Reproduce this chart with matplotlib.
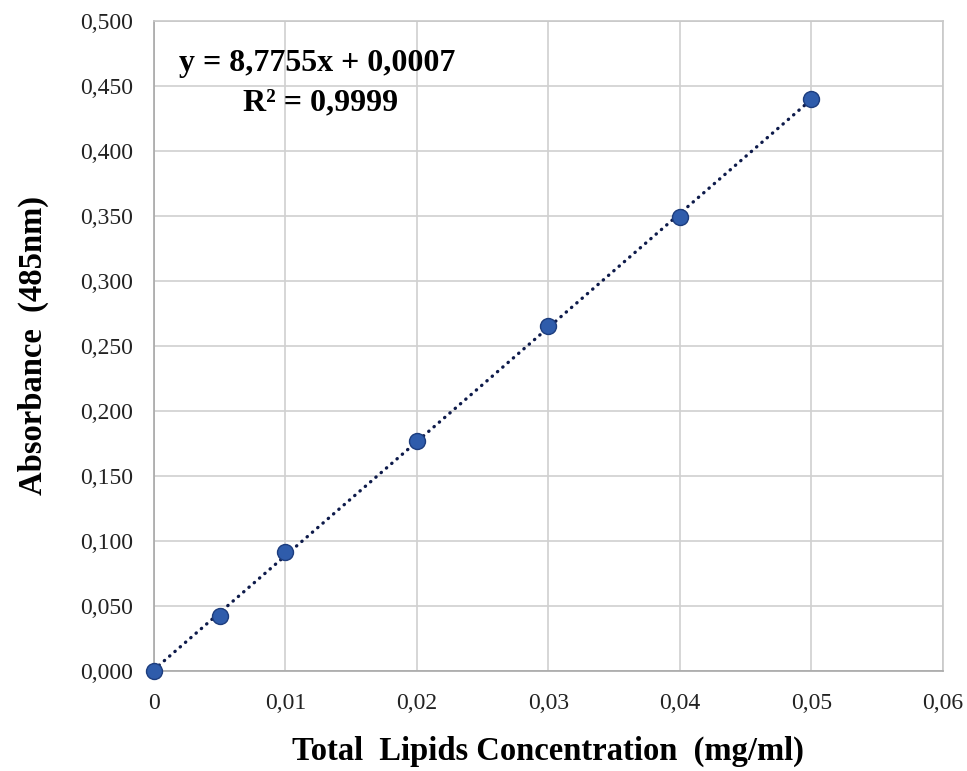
"""
Calibration curve for total lipids: absorbance at 485 nm vs concentration.
"""

import matplotlib.pyplot as plt
import numpy as np
from matplotlib.ticker import FuncFormatter

plt.rcParams["font.family"] = ["Liberation Serif", "DejaVu Serif"]

# Standards (mg/ml) and measured absorbance.
concentration = [0.0, 0.005, 0.01, 0.02, 0.03, 0.04, 0.05]
absorbance = [0.000, 0.042, 0.091, 0.177, 0.265, 0.349, 0.440]

# Linear trendline coefficients.
slope = 8.7755
intercept = 0.0007
r_squared = 0.9999

x_ticks = [0, 0.01, 0.02, 0.03, 0.04, 0.05, 0.06]
y_ticks = [0.0, 0.05, 0.1, 0.15, 0.2, 0.25, 0.3, 0.35, 0.4, 0.45, 0.5]


def comma(fmt):
    return FuncFormatter(lambda v, _: fmt.format(v).replace(".", ","))


fig = plt.figure(figsize=(9.67, 7.71), dpi=100)
ax = fig.add_axes([0.159, 0.130, 0.816, 0.843])

ax.set_xlim(0, 0.06)
ax.set_ylim(0, 0.5)
ax.set_xticks(x_ticks)
ax.set_yticks(y_ticks)
ax.xaxis.set_major_formatter(
    FuncFormatter(lambda v, _: "0" if v == 0 else f"{v:.2f}".replace(".", ","))
)
ax.yaxis.set_major_formatter(comma("{:.3f}"))
ax.tick_params(length=0, labelsize=17, colors="#222222")
ax.tick_params(axis="y", pad=15)
ax.tick_params(axis="x", pad=16)

ax.grid(True, color="#d0d0d0", linewidth=1.2)
ax.set_axisbelow(True)
for spine in ax.spines.values():
    spine.set_color("#c8c8c8")
    spine.set_linewidth(1.2)
ax.spines["left"].set_color("#a8a8a8")
ax.spines["bottom"].set_color("#a8a8a8")

# Dotted trendline over the measured range.
xt = np.array([concentration[0], concentration[-1]])
ax.plot(
    xt,
    slope * xt + intercept,
    linestyle=(0, (0.1, 2.0)),
    dash_capstyle="round",
    linewidth=2.4,
    color="#0d1a4a",
    zorder=2,
)

ax.plot(
    concentration,
    absorbance,
    linestyle="none",
    marker="o",
    markersize=11.5,
    markerfacecolor="#2f5cab",
    markeredgecolor="#1d3d7e",
    markeredgewidth=1.0,
    zorder=3,
    clip_on=False,
)

ax.text(
    0.0124,
    0.467,
    f"y = {slope:.4f}x + {intercept:.4f}".replace(".", ","),
    fontsize=23,
    fontweight="bold",
    ha="center",
    va="center",
)
ax.text(
    0.0127,
    0.437,
    f"R² = {r_squared:.4f}".replace(".", ","),
    fontsize=23,
    fontweight="bold",
    ha="center",
    va="center",
)

ax.set_xlabel("Total  Lipids Concentration  (mg/ml)", fontsize=23.5, fontweight="bold", labelpad=16)
ax.set_ylabel("Absorbance  (485nm)", fontsize=23.5, fontweight="bold", labelpad=22)

fig.savefig("out.png", dpi=100)
